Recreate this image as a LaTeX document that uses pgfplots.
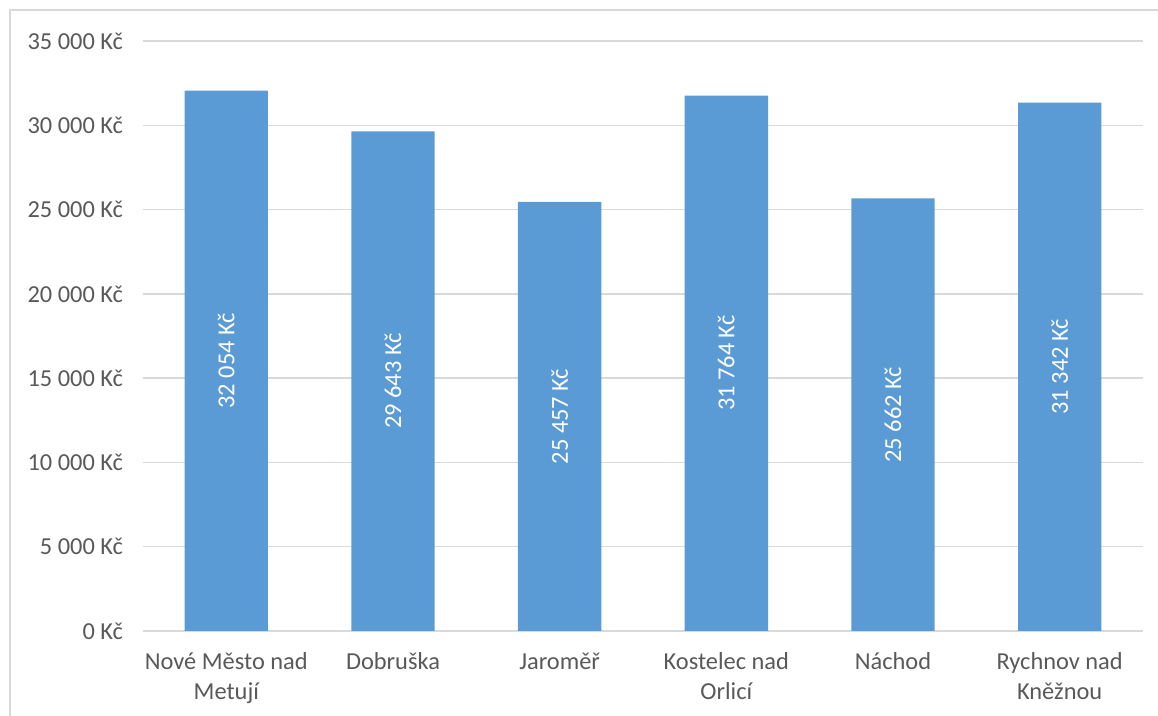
\documentclass[border=0pt]{standalone}
\usepackage{pgfplots}
\pgfplotsset{compat=1.18}
\usepackage{fontspec}
\setmainfont{Carlito}
\definecolor{barc}{HTML}{5B9BD5}
\definecolor{gridc}{HTML}{D9D9D9}
\definecolor{txt}{HTML}{595959}
\begin{document}
\begin{tikzpicture}
\useasboundingbox (0,0) rectangle (579pt,358pt);
\draw[gridc, line width=1pt] (5pt,0pt) -- (5pt,353pt) -- (579pt,353pt);
\begin{axis}[
  at={(71.5pt,42.5pt)}, anchor=south west,
  scale only axis, width=500pt, height=295pt,
  xmin=-0.5, xmax=5.5, ymin=0, ymax=35000,
  scaled y ticks=false,
  axis lines=left, axis line style={draw=none,-},
  major tick length=0pt,
  ymajorgrids, grid style={gridc, line width=0.75pt},
  xtick={0,1,2,3,4,5},
  xticklabels={{Nové Město nad\\Metují},{Dobruška},{Jaroměř},{Kostelec nad\\Orlicí},{Náchod},{Rychnov nad\\Kněžnou}},
  xticklabel style={align=center, font=\fontsize{12.2}{15}\selectfont, text=txt, yshift=-7.5pt},
  ytick={0,5000,10000,15000,20000,25000,30000,35000},
  yticklabels={0 Kč,5 000 Kč,10 000 Kč,15 000 Kč,20 000 Kč,25 000 Kč,30 000 Kč,35 000 Kč},
  yticklabel style={font=\fontsize{12.2}{15}\selectfont, text=txt, xshift=-6.5pt},
  clip=false,
]
\addplot[ybar, fill=barc, draw=none, bar width=0.5] coordinates {
  (0,32054) (1,29643) (2,25457) (3,31764) (4,25662) (5,31342)
};
\addplot[draw=none, mark=none, nodes near coords, point meta=explicit symbolic,
  every node near coord/.style={rotate=90, anchor=center, text=white, font=\fontsize{12.2}{15}\selectfont}]
  table[col sep=comma, row sep=\\, x=x, y=y, meta=lab] {
x,y,lab\\
0,16027,32 054 Kč\\
1,14821.5,29 643 Kč\\
2,12728.5,25 457 Kč\\
3,15882,31 764 Kč\\
4,12831,25 662 Kč\\
5,15671,31 342 Kč\\
};
\end{axis}
\end{tikzpicture}
\end{document}
